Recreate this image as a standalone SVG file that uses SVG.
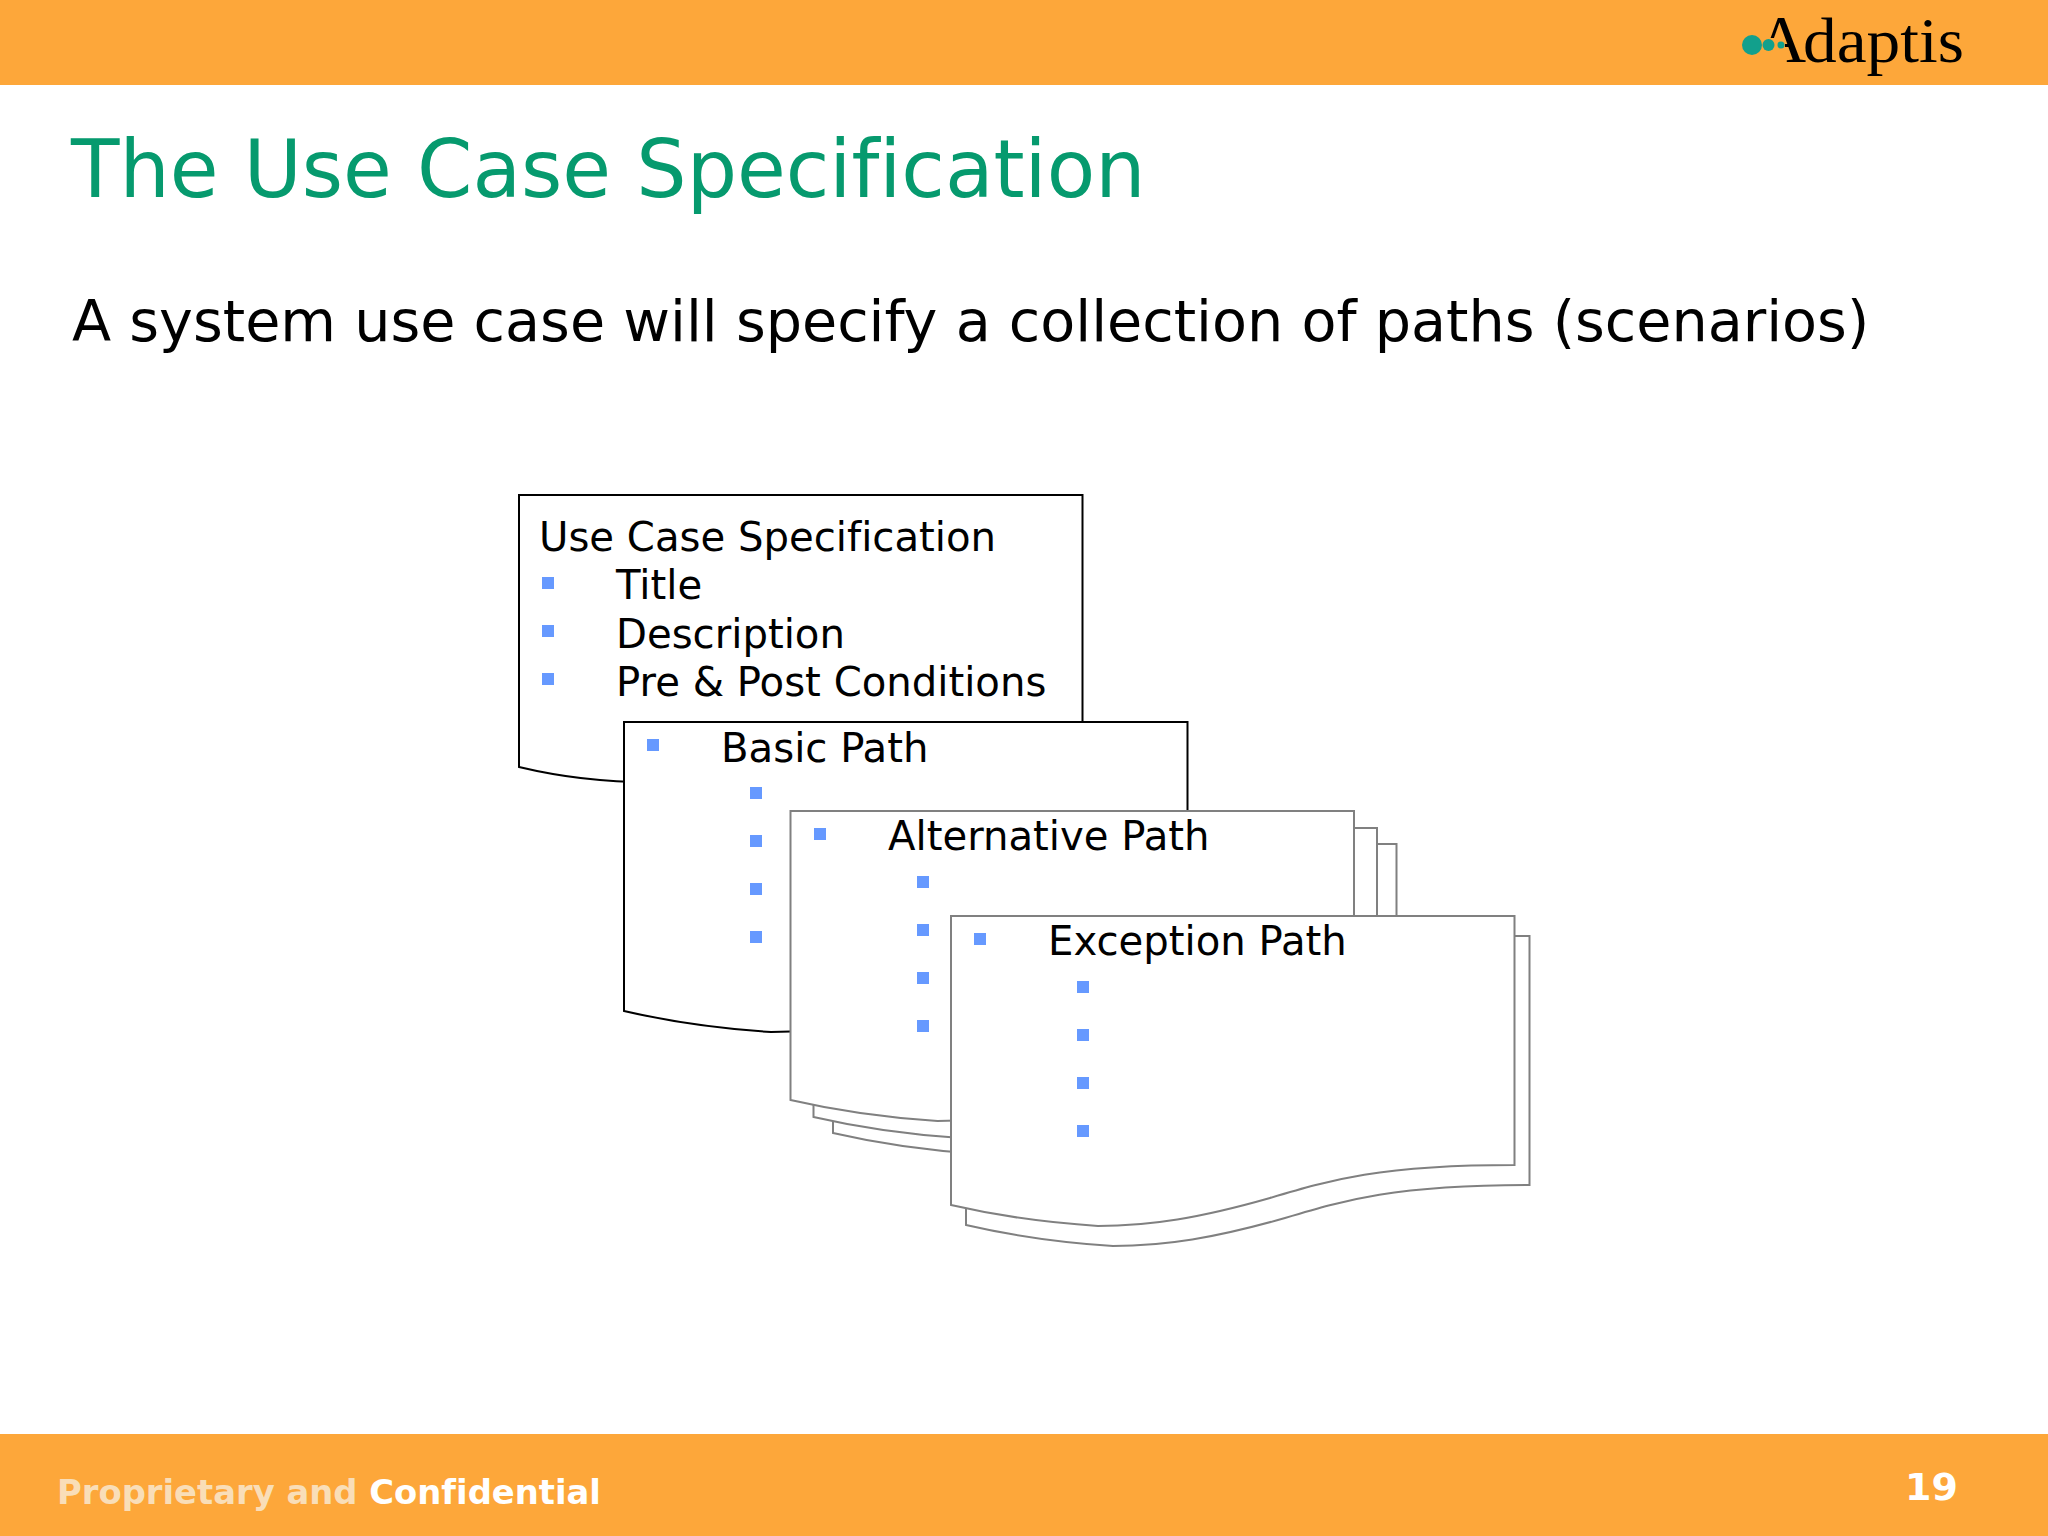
<svg xmlns="http://www.w3.org/2000/svg" width="2048" height="1536" viewBox="0 0 2048 1536">
<style>
text{font-family:"DejaVu Sans",Verdana,sans-serif;fill:#000;font-variant-ligatures:none}
.t{font-size:40.200px}
.doc{fill:#fff;stroke-width:2}
.k{stroke:#000}
.g{stroke:#808080}
.b{fill:#6699ff}
.logo{font-family:"Liberation Serif",serif}
.tl{fill:#12a08c}
</style>
<defs>
<rect id="bu" class="b" width="12" height="12"/>
<g id="sub"><use href="#bu"/><use href="#bu" y="48"/><use href="#bu" y="96"/><use href="#bu" y="144"/></g>
<path id="page" d="M0 0H563.500V249C429 249 379 264 319 282C249 302 199 310 147 310Q69 305 0 289Z"/>
<clipPath id="aclip"><path d="M1750 0H1830V90H1785V38H1750Z"/></clipPath>
</defs>
<rect width="2048" height="1536" fill="#fff"/>
<g id="header">
<rect width="2048" height="85" fill="#fda73a"/>
<text class="logo" x="1757" y="62" font-size="68" clip-path="url(#aclip)">A</text>
<text class="logo" x="1803" y="62" font-size="64" textLength="161" lengthAdjust="spacingAndGlyphs">daptis</text>
<circle class="tl" cx="1752" cy="45" r="10"/>
<circle class="tl" cx="1768.500" cy="45" r="6"/>
<circle class="tl" cx="1781" cy="45" r="3.500"/>
</g>
<text id="title" x="71" y="197" font-size="79.300" style="fill:#069a6e">The Use Case Specification</text>
<text id="subtitle" x="72" y="341" font-size="57.200">A system use case will specify a collection of paths (scenarios)</text>
<g id="use-case-spec">
<path class="doc k" d="M519 495H1082.500V730L900 760 666 782Q590 784 519 767Z"/>
<text class="t" x="539" y="551">Use Case Specification</text>
<use href="#bu" x="542" y="577"/><text class="t" x="616" y="599">Title</text>
<use href="#bu" x="542" y="625"/><text class="t" x="616" y="647.500">Description</text>
<use href="#bu" x="542" y="673"/><text class="t" x="616" y="695.500">Pre &amp; Post Conditions</text>
</g>
<g id="basic-path">
<use href="#page" class="doc k" x="624" y="722"/>
<use href="#bu" x="647" y="739"/><text class="t" x="721" y="761.500">Basic Path</text>
<use href="#sub" x="750" y="787"/>
</g>
<g id="alternative-path">
<use href="#page" class="doc g" x="833" y="844"/>
<use href="#page" class="doc g" x="813.500" y="828"/>
<use href="#page" class="doc g" x="790.500" y="811"/>
<use href="#bu" x="814" y="828"/><text class="t" x="888" y="849.500">Alternative Path</text>
<use href="#sub" x="917" y="876"/>
</g>
<g id="exception-path">
<use href="#page" class="doc g" x="966" y="936"/>
<use href="#page" class="doc g" x="951" y="916"/>
<use href="#bu" x="974" y="933"/><text class="t" x="1048" y="955">Exception Path</text>
<use href="#sub" x="1077" y="981"/>
</g>
<g id="footer">
<rect y="1434" width="2048" height="102" fill="#fda73a"/>
<text x="57" y="1504" font-size="33.800" font-weight="700" style="fill:#f9deb8">Proprietary and <tspan style="fill:#fff">Confidential</tspan></text>
<text x="1905" y="1500" font-size="38" font-weight="700" style="fill:#fff">19</text>
</g>
</svg>
